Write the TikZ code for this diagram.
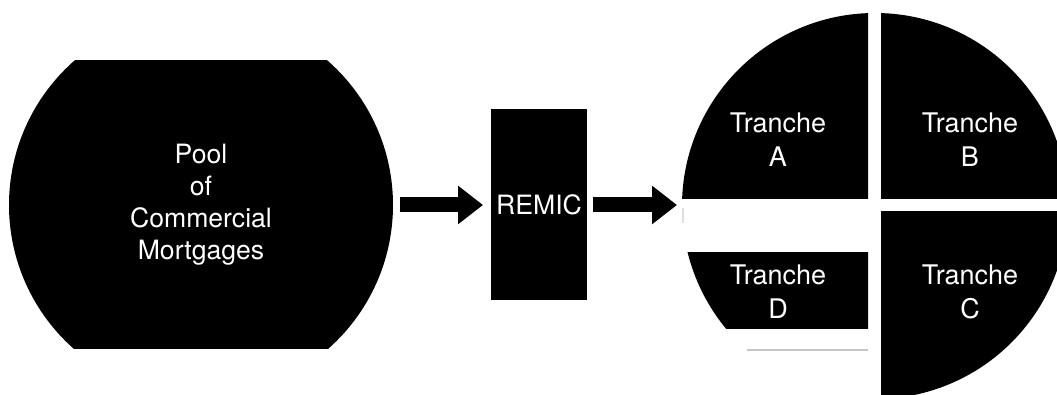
\documentclass[tikz,border=0pt]{standalone}
\usepackage{fontspec}
\setmainfont{TeX Gyre Heros}
\usepackage{tikz}
\usetikzlibrary{arrows.meta, positioning, calc}

\begin{document}
\begin{tikzpicture}[
			x=0.5pt,
			y=-0.5pt,
			every node/.style={
					text=white,
					align=center,
					inner sep=0pt,
					outer sep=0pt
				},
			label/.style={
					font=\fontsize{13.5}{17}\selectfont
				},
			fatarrow/.style={
					line width=7.5pt, % thickness of the shaft
					-{Triangle[width=18.5pt, length=12.5pt]}
				}
		]
		\useasboundingbox (0, 0) rectangle (1057, 395);

		% pool: a circle cut flat at top and bottom
		\begin{scope}
			\clip (0, 61) rectangle (420, 349);
			\node[
				circle,
				fill=black,
				minimum size=192pt, % diameter of the pool
				font=\fontsize{13.3}{16}\selectfont
			] (pool) at (201, 205) {Pool\\of\\Commercial\\Mortgages};
		\end{scope}

		\node[
			fill=black,
			minimum width=48pt,
			minimum height=95.5pt,
			font=\fontsize{13.3}{15}\selectfont
		] (remic) at (539, 205) {REMIC};

		% the four tranches of the pie
		\foreach \xa/\ya/\xb/\yb in {
				600/0/868/199,
				881/0/1057/199,
				881/212/1057/395,
				600/253/868/329}{
				\begin{scope}
					\clip (\xa, \ya) rectangle (\xb, \yb);
					\fill[black] (875, 206) circle (96.5pt);
				\end{scope}
			}
		\draw[gray!45, line width=0.8pt] (747, 350) -- (868, 350);
		\draw[gray!25, line width=0.8pt] (683, 208) -- (683, 223);

		\coordinate (pie) at (682, 205);

		\node[label] (trA) at (778, 140) {Tranche\\A};
		\node[label] (trB) at (970, 140) {Tranche\\B};
		\node[label] (trC) at (970, 292) {Tranche\\C};
		\node[label] (trD) at (778, 292) {Tranche\\D};

		\draw[fatarrow, shorten <=3.5pt, shorten >=4pt] (pool.east) -- (remic.west);
		\draw[fatarrow, shorten <=3pt, shorten >=2.5pt] (remic.east) -- (pie);
	\end{tikzpicture}
\end{document}
